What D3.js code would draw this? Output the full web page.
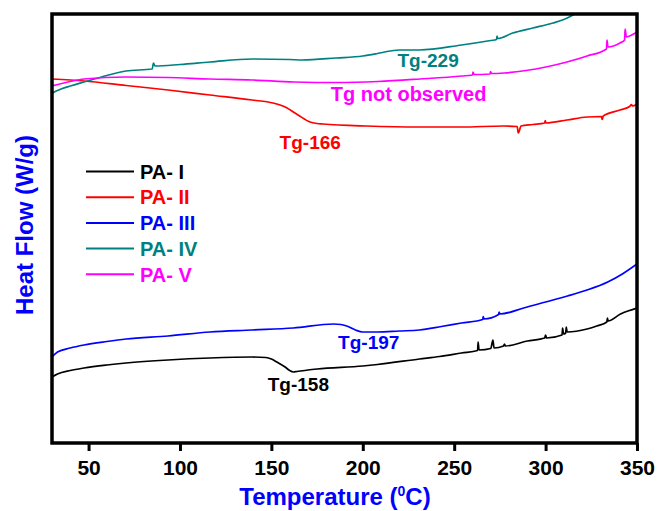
<!DOCTYPE html>
<html>
<head>
<meta charset="utf-8">
<script src="https://cdn.jsdelivr.net/npm/d3@7"></script>
<style>
	body { margin: 0; background: #fff; }
	svg text { font-family: "Liberation Sans", Arial, sans-serif; font-weight: bold; }
</style>
</head>
<body>
<div id="chart"></div>
<script>
// DSC traces, [temperature (C), heat flow (arb. W/g)]
var paI = [[30,0.66],[33,0.69],[40,0.725],[47.5,0.75],[60,0.78],[70.5,0.80],[93.5,0.83],[116.4,0.85],[139.4,0.86],
	[147,0.855],[150,0.84],[153,0.81],[157.5,0.76],[160,0.725],[162,0.71],[164,0.715],[170,0.73],[175,0.74],[200,0.77],
	[208,0.785],[231,0.84],[242,0.865],[254,0.90],[262.8,0.925],[263.1,1.01],[263.6,0.93],[270,0.945],[271.2,1.03],
	[271.8,0.95],[277,0.97],[277.5,0.99],[278,0.97],[290,1.02],[299.5,1.05],[300,1.08],[300.5,1.05],[309,1.08],
	[309.3,1.15],[309.8,1.09],[311,1.10],[311.3,1.16],[311.8,1.11],[322.7,1.14],[328,1.17],[333.5,1.21],[333.8,1.25],
	[334.2,1.22],[341,1.29],[345,1.32],[350,1.35]];
var paII = [[30,3.64],[47.5,3.62],[70.5,3.575],[93.5,3.53],[116.4,3.48],[139.4,3.43],[150.9,3.40],[157.5,3.36],
	[164.6,3.28],[171.1,3.21],[175,3.195],[178.2,3.19],[202,3.17],[231,3.16],[254,3.16],[277,3.17],[284.5,3.165],
	[285,3.10],[285.6,3.12],[286.5,3.17],[293,3.185],[299.5,3.20],[299.8,3.225],[300.2,3.20],[311.7,3.23],[322.7,3.26],
	[330.5,3.265],[331,3.235],[331.5,3.27],[340.7,3.33],[346,3.365],[347,3.385],[347.5,3.37],[350,3.39]];
var paIII = [[30,0.86],[33,0.91],[40,0.95],[47.5,0.98],[60,1.015],[70.5,1.04],[93.5,1.07],[116.4,1.11],[139.4,1.13],
	[162,1.15],[184,1.19],[188,1.185],[192,1.165],[196,1.13],[200,1.11],[208,1.11],[220,1.12],[231,1.13],[243,1.165],
	[254,1.20],[265.6,1.235],[265.9,1.265],[266.3,1.24],[274.3,1.285],[274.6,1.31],[275,1.29],[288,1.35],[300,1.41],
	[312,1.47],[322.7,1.53],[334,1.61],[342,1.69],[350,1.79]];
var paIV = [[30,3.50],[35,3.54],[40,3.57],[47.5,3.61],[60,3.675],[70.5,3.72],[84.8,3.74],[85.5,3.80],[86.3,3.77],
	[100,3.785],[116.4,3.81],[139.4,3.84],[160,3.835],[166.8,3.83],[185.4,3.85],[200,3.87],[208,3.895],[215,3.92],
	[220,3.93],[231,3.93],[254,3.98],[270,4.025],[273.2,4.035],[273.4,4.07],[273.8,4.045],[282,4.10],[293,4.15],
	[304,4.20],[310,4.235],[316,4.29],[322,4.36],[330,4.46]];
var paV = [[30,3.57],[40,3.615],[47.5,3.64],[70.5,3.66],[93.5,3.655],[116.4,3.64],[139.4,3.63],[162.4,3.61],
	[185.4,3.605],[208.3,3.615],[231.3,3.64],[254.3,3.67],[260,3.68],[260.3,3.71],[260.8,3.685],[269.6,3.69],
	[269.9,3.715],[270.4,3.695],[277.3,3.70],[300.2,3.76],[311.7,3.81],[322.7,3.87],[333.3,3.94],[333.6,4.03],
	[334.1,3.96],[340.7,4.00],[343.2,4.03],[343.5,4.14],[344.2,4.06],[346,4.07],[350,4.11]];

var seriesNames = ["PA- I", "PA- II", "PA- III", "PA- IV", "PA- V"];
var seriesColors = ["#000000", "#ff0000", "#0000ff", "#008080", "#ff00ff"];
var seriesData = [paI, paII, paIII, paIV, paV];
var xTicks = [50, 100, 150, 200, 250, 300, 350];

// Tg annotations: [label, series index, x start (C), heat flow at baseline]
var tgNotes = [
	["Tg-229", 3, 219, 3.76],
	["Tg not observed", 4, 182.5, 3.42],
	["Tg-166", 1, 154.5, 2.94],
	["Tg-197", 2, 186.5, 0.94],
	["Tg-158", 0, 148, 0.52]
];

var W = 658, H = 511;
var margin = {top: 14, right: 21, bottom: 68, left: 52};

var svg = d3.select("#chart").append("svg")
	.attr("width", W)
	.attr("height", H);

var x = d3.scaleLinear().domain([30, 350]).range([margin.left, W - margin.right]);
var y = d3.scaleLinear().domain([0, 4.29]).range([H - margin.bottom, margin.top]);

svg.append("clipPath")
	.attr("id", "plotclip")
	.append("rect")
		.attr("x", margin.left)
		.attr("y", margin.top)
		.attr("width", W - margin.left - margin.right)
		.attr("height", H - margin.top - margin.bottom);

var line = d3.line()
	.curve(d3.curveMonotoneX)
	.x(function(d) { return x(d[0]); })
	.y(function(d) { return y(d[1]); });

svg.append("g")
	.attr("clip-path", "url(#plotclip)")
	.selectAll("path")
	.data(seriesData)
	.enter().append("path")
		.attr("d", line)
		.attr("fill", "none")
		.attr("stroke", function(d, i) { return seriesColors[i]; })
		.attr("stroke-width", 1.7)
		.attr("stroke-linejoin", "round");

// bottom axis
var xAxis = svg.append("g")
	.attr("transform", "translate(0," + (H - margin.bottom) + ")")
	.call(d3.axisBottom(x).tickValues(xTicks).tickSize(8).tickSizeOuter(0).tickPadding(9));
xAxis.select(".domain").remove();
xAxis.selectAll(".tick line")
	.attr("stroke", "#000")
	.attr("stroke-width", 3);
xAxis.selectAll(".tick text")
	.attr("fill", "#000")
	.style("font-size", "21px");

// frame
svg.append("rect")
	.attr("x", margin.left)
	.attr("y", margin.top)
	.attr("width", W - margin.left - margin.right)
	.attr("height", H - margin.top - margin.bottom)
	.attr("fill", "none")
	.attr("stroke", "#000")
	.attr("stroke-width", 3.5);

// axis titles
var xt = svg.append("text")
	.attr("x", 335)
	.attr("y", 505)
	.attr("text-anchor", "middle")
	.attr("fill", "#0000ff")
	.style("font-size", "24px");
xt.append("tspan").text("Temperature (");
xt.append("tspan").attr("dy", -9).style("font-size", "14px").text("0");
xt.append("tspan").attr("dy", 9).text("C)");

svg.append("text")
	.attr("transform", "translate(33,225) rotate(-90)")
	.attr("text-anchor", "middle")
	.attr("fill", "#0000ff")
	.style("font-size", "24px")
	.text("Heat Flow (W/g)");

// legend
var legend = svg.append("g").selectAll("g")
	.data(seriesNames)
	.enter().append("g")
		.attr("transform", function(d, i) { return "translate(86," + (171.5 + i * 25.7) + ")"; });
legend.append("line")
	.attr("x1", 0).attr("x2", 48)
	.attr("stroke", function(d, i) { return seriesColors[i]; })
	.attr("stroke-width", 2);
legend.append("text")
	.attr("x", 54)
	.attr("dy", "0.36em")
	.attr("fill", function(d, i) { return seriesColors[i]; })
	.style("font-size", "20px")
	.text(function(d) { return d; });

// Tg labels
svg.append("g").selectAll("text")
	.data(tgNotes)
	.enter().append("text")
		.attr("x", function(d) { return x(d[2]); })
		.attr("y", function(d) { return y(d[3]); })
		.attr("fill", function(d) { return seriesColors[d[1]]; })
		.style("font-size", function(d) { return d[0].length > 8 ? "20px" : "19px"; })
		.text(function(d) { return d[0]; });
</script>
</body>
</html>
